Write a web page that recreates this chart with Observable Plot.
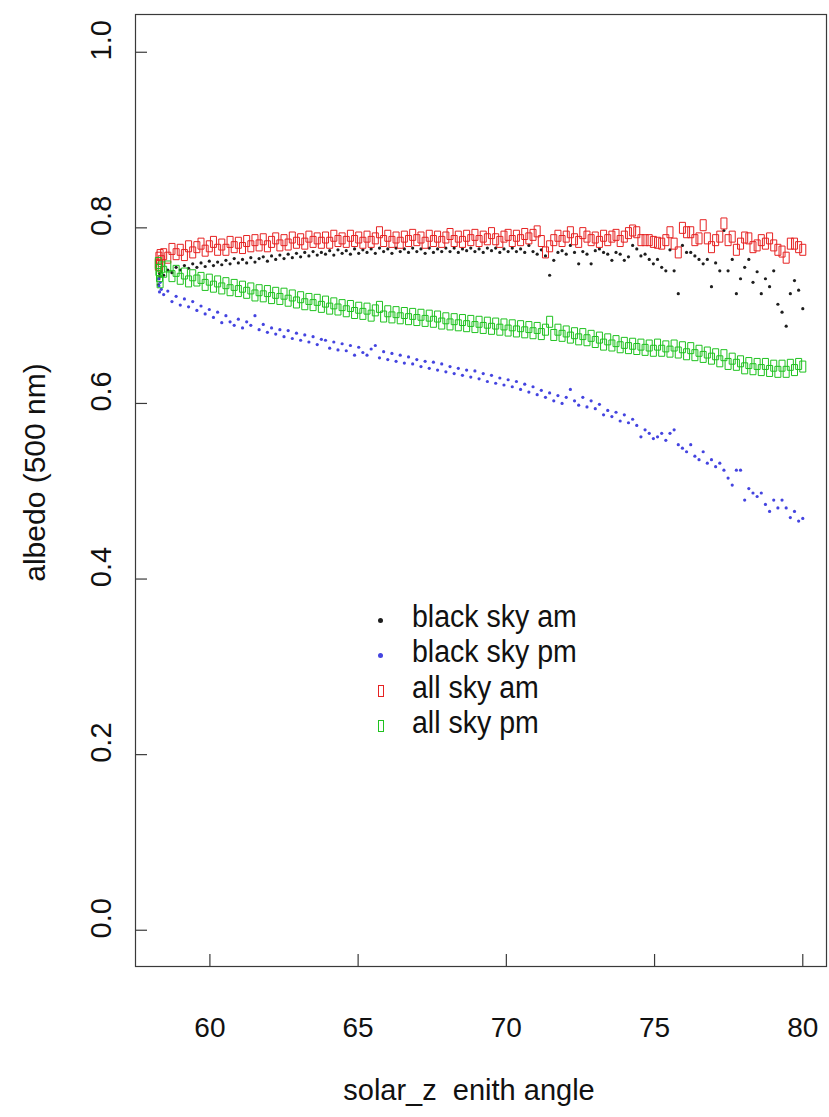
<!DOCTYPE html>
<html><head><meta charset="utf-8">
<script src="https://cdn.jsdelivr.net/npm/d3@7"></script>
<script src="https://cdn.jsdelivr.net/npm/@observablehq/plot@0.6"></script>
<style>
html,body{margin:0;padding:0;background:#fff;}
#wrap{position:relative;width:829px;height:1117px;overflow:hidden;}
.legtxt{position:absolute;font-family:"Liberation Sans",Arial,sans-serif;font-size:31px;line-height:31px;color:#111;white-space:nowrap;transform:scaleX(0.92);transform-origin:0 50%;}
.legsym{position:absolute;box-sizing:border-box;}
</style></head><body><div id="wrap"></div>
<script>
// solar zenith angle (degrees)
const zenith = [
58.26,58.28,58.30,58.32,58.36,58.44,58.58,58.72,58.86,
59.00,59.14,59.28,59.42,59.56,
59.70,59.84,59.98,60.12,60.26,
60.40,60.54,60.68,60.82,60.96,
61.10,61.24,61.38,61.52,61.66,
61.80,61.94,62.08,62.22,62.36,
62.50,62.64,62.78,62.92,63.06,
63.20,63.34,63.48,63.62,63.76,
63.90,64.04,64.18,64.32,64.46,
64.60,64.74,64.88,65.02,65.16,
65.30,65.44,65.58,65.72,65.86,
66.00,66.14,66.28,66.42,66.56,
66.70,66.84,66.98,67.12,67.26,
67.40,67.54,67.68,67.82,67.96,
68.10,68.24,68.38,68.52,68.66,
68.80,68.94,69.08,69.22,69.36,
69.50,69.64,69.78,69.92,70.06,
70.20,70.34,70.48,70.62,70.76,
70.90,71.04,71.18,71.32,71.46,
71.60,71.74,71.88,72.02,72.16,
72.30,72.44,72.58,72.72,72.86,
73.00,73.14,73.28,73.42,73.56,
73.70,73.84,73.98,74.12,74.26,
74.40,74.54,74.68,74.82,74.96,
75.10,75.24,75.38,75.52,75.66,
75.80,75.94,76.08,76.22,76.36,
76.50,76.64,76.78,76.92,77.06,
77.20,77.34,77.48,77.62,77.76,
77.90,78.04,78.18,78.32,78.46,
78.60,78.74,78.88,79.02,79.16,
79.30,79.44,79.58,79.72,79.86,
80.00
];
const blackSkyAm = [
.735,.742,.748,.745,.750,.746,.752,.749,.755,
.752,.757,.754,.759,.755,
.760,.756,.762,.757,.761,
.758,.763,.759,.765,.760,
.764,.760,.766,.761,.765,
.767,.762,.768,.764,.769,
.765,.770,.766,.771,.767,
.772,.768,.773,.769,.772,
.770,.774,.769,.775,.771,
.774,.770,.776,.771,.775,
.772,.776,.771,.777,.773,
.776,.771,.777,.773,.776,
.772,.777,.773,.776,.771,
.777,.772,.776,.773,.777,
.773,.777,.772,.776,.774,
.777,.773,.776,.772,.777,
.774,.777,.772,.776,.773,
.777,.773,.776,.772,.780,
.773,.770,.775,.768,.746,
.763,.772,.774,.770,.780,
.772,.759,.773,.770,.759,
.774,.776,.772,.770,.763,
.772,.770,.763,.767,.780,
.776,.768,.770,.764,.759,
.764,.755,.751,.775,.751,
.725,.780,.772,.772,.768,
.764,.759,.764,.733,.760,
.751,.797,.751,.764,.725,
.742,.755,.764,.738,.750,
.725,.742,.733,.751,.713,
.704,.688,.725,.740,.729,
.708
];
const blackSkyPm = [
.742,.734,.727,.738,.730,.724,.728,.716,.722,
.712,.719,.710,.716,.706,
.711,.702,.707,.698,.704,
.692,.700,.693,.689,.696,
.686,.693,.689,.700,.684,
.690,.681,.686,.679,.684,
.676,.683,.674,.680,.672,
.678,.670,.676,.667,.673,
.672,.663,.670,.661,.668,
.660,.666,.655,.664,.658,
.655,.662,.666,.652,.659,
.650,.657,.648,.655,.646,
.653,.645,.650,.642,.648,
.640,.647,.638,.645,.636,
.642,.634,.640,.632,.638,
.630,.637,.628,.634,.625,
.632,.623,.629,.621,.627,
.619,.625,.616,.622,.613,
.619,.610,.615,.607,.612,
.603,.609,.600,.607,.616,
.603,.598,.607,.596,.603,
.594,.599,.587,.592,.585,
.590,.580,.587,.578,.582,
.575,.562,.570,.566,.560,
.562,.566,.558,.566,.570,
.553,.549,.545,.553,.540,
.536,.545,.532,.536,.528,
.532,.524,.515,.507,.524,
.524,.490,.503,.498,.494,
.498,.485,.477,.490,.481,
.490,.481,.470,.477,.466,
.469
];
const allSkyAm = [
.758,.766,.757,.769,.762,.770,.766,.776,.770,
.775,.769,.779,.772,.778,
.782,.774,.779,.784,.775,
.781,.775,.784,.778,.783,
.777,.785,.779,.786,.780,
.787,.779,.784,.788,.780,
.786,.781,.789,.783,.787,
.782,.790,.784,.788,.783,
.789,.783,.791,.785,.788,
.784,.791,.785,.789,.783,
.790,.784,.788,.795,.785,
.791,.784,.789,.783,.790,
.785,.792,.786,.789,.783,
.791,.785,.790,.784,.789,
.793,.785,.790,.784,.791,
.786,.792,.785,.790,.787,
.794,.787,.784,.790,.792,
.785,.791,.786,.793,.788,
.792,.796,.785,.772,.779,
.786,.791,.785,.790,.795,
.787,.784,.794,.790,.786,
.789,.784,.791,.786,.790,
.792,.785,.790,.794,.797,
.795,.786,.786,.786,.784,
.783,.782,.786,.795,.782,
.772,.800,.795,.795,.786,
.788,.803,.788,.778,.786,
.790,.805,.786,.790,.775,
.782,.789,.788,.778,.780,
.786,.782,.788,.780,.775,
.773,.766,.782,.782,.778,
.775
];
const allSkyPm = [
.760,.752,.745,.738,.755,.750,.756,.745,.751,
.742,.748,.739,.746,.740,
.743,.735,.741,.733,.739,
.731,.737,.729,.735,.728,
.733,.726,.731,.723,.729,
.722,.728,.720,.726,.719,
.725,.717,.723,.715,.721,
.713,.719,.712,.718,.710,
.716,.708,.714,.707,.712,
.705,.711,.703,.709,.702,
.708,.700,.706,.710,.699,
.705,.698,.704,.697,.703,
.696,.702,.695,.701,.694,
.700,.693,.699,.691,.697,
.690,.696,.689,.695,.688,
.694,.687,.693,.686,.692,
.685,.691,.684,.690,.683,
.689,.682,.688,.681,.687,
.680,.686,.679,.684,.693,
.678,.684,.677,.682,.675,
.680,.673,.679,.672,.677,
.670,.675,.667,.673,.666,
.671,.664,.669,.663,.668,
.662,.667,.661,.666,.660,
.667,.660,.665,.659,.666,
.658,.664,.656,.663,.655,
.660,.653,.658,.651,.656,
.648,.655,.645,.651,.644,
.648,.640,.646,.639,.645,
.638,.645,.637,.643,.636,
.643,.636,.644,.638,.645,
.642
];
const seriesNames = ["black sky am", "black sky pm", "all sky am", "all sky pm"];
const xTicks = [60, 65, 70, 75, 80];
const yTicks = [0, 0.2, 0.4, 0.6, 0.8, 1.0];
const xTitle = "solar_z  enith angle";
const yTitle = "albedo (500 nm)";

const colors = {black: "#1e1e1e", blue: "#4444e0", red: "#e62222", green: "#1fc21f"};
const rows = vals => zenith.slice(0, vals.length).map((z, i) => ({z, v: vals[i]}));
const rectSym = {draw(ctx) { ctx.moveTo(-3, -5.5); ctx.lineTo(3, -5.5); ctx.lineTo(3, 5.5); ctx.lineTo(-3, 5.5); ctx.closePath(); }};

const font = '"Liberation Sans", Arial, sans-serif';
const chart = Plot.plot({
  width: 829, height: 1117,
  marginLeft: 135, marginRight: 3, marginTop: 14, marginBottom: 151,
  x: {domain: [57.49, 80.80], label: null},
  y: {domain: [-0.0413, 1.043], label: null},
  style: {fontFamily: font, fontSize: "28px", background: "#fff", color: "#111"},
  marks: [
    Plot.frame({stroke: "#3a3a3a", strokeWidth: 1.2}),
    Plot.ruleX(xTicks, {x: d => d, insetTop: 940, stroke: "#3a3a3a", strokeWidth: 1.2}),
    Plot.ruleY(yTicks, {y: d => d, insetRight: 679, stroke: "#3a3a3a", strokeWidth: 1.2}),
    Plot.axisX(xTicks, {tickSize: 0, tickPadding: 51, fontSize: 28, label: null}),
    Plot.axisY(yTicks, {tickSize: 0, tickRotate: -90, tickPadding: 25, dy: -12, fontSize: 29, tickFormat: d => d.toFixed(1), label: null}),
    Plot.text([yTitle], {text: d => d, frameAnchor: "left", textAnchor: "middle", lineAnchor: "middle", rotate: -90, dx: -100, dy: -18, fontSize: 30, fill: "#111", ariaLabel: "ytitle"}),
    Plot.text([xTitle], {text: d => d, frameAnchor: "bottom", textAnchor: "middle", lineAnchor: "middle", dy: 124, dx: -12, fontSize: 29, fill: "#111", ariaLabel: "xtitle"}),
    Plot.dot(rows(blackSkyAm), {x: "z", y: "v", r: 1.6, fill: colors.black, stroke: "none"}),
    Plot.dot(rows(blackSkyPm), {x: "z", y: "v", r: 1.6, fill: colors.blue, stroke: "none"}),
    Plot.dot(rows(allSkyAm), {x: "z", y: "v", symbol: rectSym, r: 3, fill: "none", stroke: colors.red, strokeWidth: 1}),
    Plot.dot(rows(allSkyPm), {x: "z", y: "v", symbol: rectSym, r: 3, fill: "none", stroke: colors.green, strokeWidth: 1})
  ]
});
const svg = d3.select(chart);
svg.selectAll("text").style("white-space", "pre");
// condensed glyph look of the reference (image was stretched vertically)
function squash(sel, sx, sy) {
  sel.each(function() {
    const t = this.getAttribute("transform") || "";
    const x = this.getAttribute("x"), y = this.getAttribute("y");
    if (x != null || y != null) {
      this.setAttribute("transform", `${t} translate(${x || 0},${y || 0}) scale(${sx},${sy})`);
      this.removeAttribute("x"); this.removeAttribute("y");
    } else {
      this.setAttribute("transform", `${t} scale(${sx},${sy})`);
    }
  });
}
squash(svg.selectAll('g[aria-label="xtitle"] text'), 0.905, 1);
squash(svg.selectAll('g[aria-label="ytitle"] text'), 1.08, 1);
const wrap = document.getElementById("wrap");
wrap.appendChild(chart);

// legend (inside plot area, HTML overlay)
const legColors = [colors.black, colors.blue, colors.red, colors.green];
const legKinds = ["dot", "dot", "rect", "rect"];
seriesNames.forEach((name, i) => {
  const base = 626.7 + i * 35.6;
  const t = document.createElement("div");
  t.className = "legtxt";
  t.textContent = name;
  t.style.left = "412px";
  t.style.top = (base - 26.2) + "px";
  wrap.appendChild(t);
  const s = document.createElement("div");
  s.className = "legsym";
  const cy = 620 + i * 35.4;
  if (legKinds[i] === "dot") {
    s.style.width = "5px"; s.style.height = "5px"; s.style.borderRadius = "50%";
    s.style.background = legColors[i];
    s.style.left = "378px"; s.style.top = (cy - 2.5) + "px";
  } else {
    s.style.width = "6px"; s.style.height = "12px";
    s.style.border = "1px solid " + legColors[i];
    s.style.left = "377.5px"; s.style.top = (cy - 6) + "px";
  }
  wrap.appendChild(s);
});
</script></body></html>
